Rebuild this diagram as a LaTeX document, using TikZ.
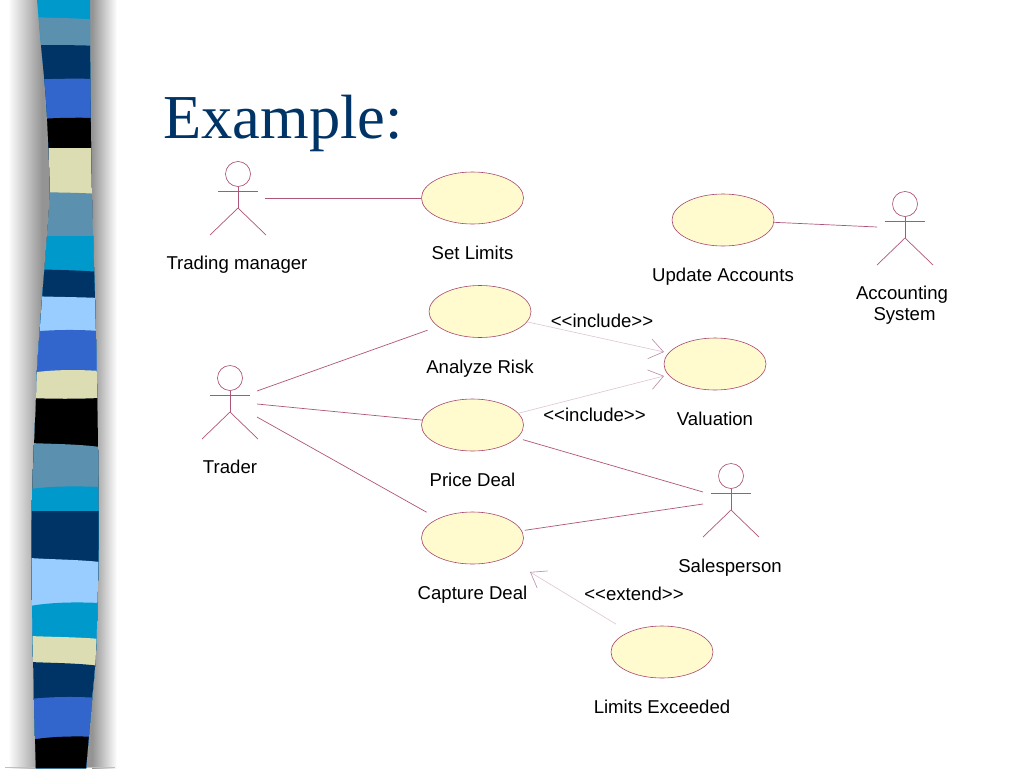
\documentclass[tikz,border=0pt]{standalone}
\usepackage{fontspec}
\setmainfont{Liberation Sans}
\newfontfamily\titlefont{Liberation Serif}
\usetikzlibrary{positioning}
\usetikzlibrary{arrows.meta}
\usetikzlibrary{shapes.geometric}
\definecolor{umlline}{HTML}{B0557A}
\definecolor{umledge}{HTML}{A8486E}
\definecolor{umlfill}{HTML}{FFFBCF}
\definecolor{umldash}{HTML}{DCC6D4}
\definecolor{umlhead}{HTML}{B98AA6}
\definecolor{bandcyan}{HTML}{0099CC}
\definecolor{bandteal}{HTML}{5B90AE}
\definecolor{bandnavy}{HTML}{003366}
\definecolor{bandroyal}{HTML}{3366CC}
\definecolor{bandcream}{HTML}{DDDDB3}
\definecolor{bandlight}{HTML}{99CCFF}
\tikzset{
  actor/.pic={
    \node [circle,draw=umledge,fill=white,semithick,inner sep=0,minimum size=25pt] (-head) at (0,0) {};
    \coordinate (-hip) at (0,34);
    \draw [connect] (-head) -- (-hip);
    \draw [connect] (-20,17) -- (20,17);
    \draw [connect] (-28,61) -- (-hip) -- (28,61);
  }
}
\begin{document}
\begin{tikzpicture}
			[x=1pt,y=-1pt,
			 usecase/.style={ellipse,draw=umledge,fill=umlfill,semithick,inner sep=0,minimum width=102pt,minimum height=52pt},
			 connect/.style={umlline,line width=0.7pt},
			 depend/.style={umldash,semithick,-{Straight Barb[color=umlhead,length=14pt,width=20pt]}},
			 label/.style={font=\fontsize{18.6}{21}\selectfont,inner sep=0,text height=13pt,text depth=4pt,align=center},
			 node distance=22pt]
			\useasboundingbox (0,0) rectangle (1024,768);
			\fill [white] (0,0) rectangle (1024,768);

			% side strip
			\shade [left color=white,right color=black!42] (8,0) rectangle (42,768);
			\fill [black!42] (42,0) rectangle (92,768);
			\shade [left color=black!42,right color=white] (92,0) rectangle (117,768);
			\draw [black!25] (5,767.5) -- (115,767.5);
			\begin{scope}
				\clip plot [smooth] coordinates {(37,0) (41,45) (46,100) (49,160) (49.5,200) (46,250) (42,300) (37,370) (36,400) (32,500) (32,600) (34,700) (36,768)}
					-- plot [smooth] coordinates {(86,768) (92,700) (96,650) (98.5,550) (98,450) (97,384) (95,300) (92,200) (90.5,100) (90,0)} -- cycle;
				\foreach \yl/\ym/\yr/\col in {-1/-1/-1/bandcyan,17/18/20/bandteal,45/45/46/bandnavy,80/78.5/79/bandroyal,120/117.5/118/black,148/148/148/bandcream,
					192/192.5/194/bandteal,236/236/236/bandcyan,269/270/272/bandnavy,296/297/298/bandlight,332/329.5/331/bandroyal,373/369.5/371/bandcream,
					398/399/398/black,443/444/447/bandteal,489/486/487/bandcyan,511/511/511/bandnavy,558/559.5/562/bandlight,606/602/603/bandcyan,
					636/637/639/bandcream,662/663/666/bandnavy,699/696.5/698/bandroyal,740/736/737/black}
					\fill [\col] (30,\yl) .. controls (52,\ym) and (78,\ym) .. (100,\yr) -- (100,769) -- (30,769) -- cycle;
			\end{scope}

			\node (title) at (283,123) [font=\titlefont\fontsize{62.5}{70}\selectfont,text=bandnavy,inner sep=0] {Example:};

			% use cases
			\node (setlimits) at (472.5,198) [usecase] {};
			\node (updateacc) at (723,220) [usecase] {};
			\node (analyze) at (480,311.5) [usecase] {};
			\node (valuation) at (715,364) [usecase] {};
			\node (pricedeal) at (472.5,425) [usecase] {};
			\node (capture) at (472.5,538) [usecase] {};
			\node (limitsex) at (662,652) [usecase] {};
			\node (setlimitsl) [below=of setlimits,label] {Set Limits};
			\node (updateaccl) [below=of updateacc,label] {Update Accounts};
			\node (analyzel) [below=of analyze,label] {Analyze Risk};
			\node (valuationl) [below=of valuation,label] {Valuation};
			\node (pricedeall) [below=of pricedeal,label] {Price Deal};
			\node (capturel) [below=of capture,label] {Capture Deal};
			\node (limitsexl) [below=of limitsex,label] {Limits Exceeded};

			% actors
			\pic (manager) at (238,174) {actor};
			\pic (accounting) at (905,204) {actor};
			\pic (trader) at (230,378) {actor};
			\pic (sales) at (731,476) {actor};
			\node (managerl) at (237,265) [label] {Trading manager};
			\node (accountingl) at (902,316) [label] {Accounting\\ \hspace*{5pt}System};
			\node (traderl) at (230,469) [label] {Trader};
			\node (salesl) at (730,568) [label] {Salesperson};

			% free ends next to the actors
			\coordinate (managerc) at (265,198);
			\coordinate (accountingc) at (877,227);
			\coordinate (tradera) at (257,391);
			\coordinate (traderb) at (257,404);
			\coordinate (traderc) at (257,417);
			\coordinate (salesa) at (703,492);
			\coordinate (salesb) at (703,504);
			\coordinate (valuationa) at (664,352);
			\coordinate (valuationb) at (664,376);
			\coordinate (capturea) at (530,572);

			\draw [connect] (managerc) -- (setlimits);
			\draw [connect] (accountingc) -- (updateacc);
			\draw [connect,shorten >=11pt] (tradera) -- (analyze);
			\draw [connect] (traderb) -- (pricedeal);
			\draw [connect,shorten >=13pt] (traderc) -- (capture);
			\draw [connect,shorten >=6pt] (salesa) -- (pricedeal);
			\draw [connect,shorten >=3pt] (salesb) -- (capture);
			\draw [depend] (analyze) -- (valuationa);
			\draw [depend] (pricedeal) -- (valuationb);
			\draw [depend,shorten <=15pt] (limitsex) -- (capturea);

			\node (includea) at (602,323) [label] {<{}<include>{}>};
			\node (includeb) at (594.5,417) [label] {<{}<include>{}>};
			\node (extenda) at (634,596) [label] {<{}<extend>{}>};
\end{tikzpicture}
\end{document}
